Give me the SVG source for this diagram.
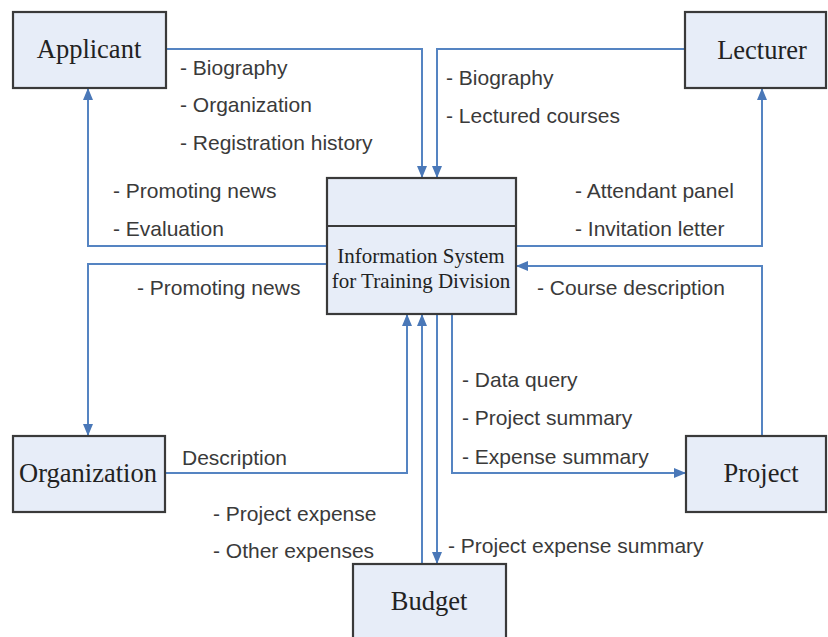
<svg xmlns="http://www.w3.org/2000/svg" width="828" height="637" viewBox="0 0 828 637">
<style>
.box{fill:#e7edf8;stroke:#3a3a3a;stroke-width:2.2}
.node{font-family:"Liberation Serif","Times New Roman",serif;font-size:26.5px;fill:#222;text-anchor:middle}
.ctr{font-family:"Liberation Serif","Times New Roman",serif;font-size:21px;fill:#222;text-anchor:middle}
.lbl{font-family:"Liberation Sans",Arial,sans-serif;font-size:21px;fill:#3a3a3a}
.con{fill:none;stroke:#5584c2;stroke-width:2;marker-end:url(#ah)}
</style>
<defs>
<marker id="ah" viewBox="0 0 12 10" refX="12" refY="5" markerWidth="12" markerHeight="10" markerUnits="userSpaceOnUse" orient="auto">
<path d="M0,0 L12,5 L0,10 z" fill="#4a78b8"/>
</marker>
</defs>
<rect width="828" height="637" fill="#ffffff"/>
<g id="connectors">
<path class="con" d="M166,49 H422 V178"/>
<path class="con" d="M685,49 H437 V178"/>
<path class="con" d="M327,246 H88 V88"/>
<path class="con" d="M327,264 H88 V436"/>
<path class="con" d="M516,246 H762 V88"/>
<path class="con" d="M762,436 V266 H516"/>
<path class="con" d="M165,473 H407 V314"/>
<path class="con" d="M422,564 V314"/>
<path class="con" d="M437,314 V564"/>
<path class="con" d="M452,314 V473 H686"/>
</g>
<g id="labels">
<text class="lbl" x="180" y="75">- Biography</text>
<text class="lbl" x="180" y="112">- Organization</text>
<text class="lbl" x="180" y="150">- Registration history</text>
<text class="lbl" x="446" y="85">- Biography</text>
<text class="lbl" x="446" y="123">- Lectured courses</text>
<text class="lbl" x="113" y="198">- Promoting news</text>
<text class="lbl" x="113" y="236">- Evaluation</text>
<text class="lbl" x="137" y="295">- Promoting news</text>
<text class="lbl" x="575" y="198">- Attendant panel</text>
<text class="lbl" x="575" y="236">- Invitation letter</text>
<text class="lbl" x="537" y="295">- Course description</text>
<text class="lbl" x="182" y="465">Description</text>
<text class="lbl" x="213" y="521">- Project expense</text>
<text class="lbl" x="213" y="558">- Other expenses</text>
<text class="lbl" x="462" y="387">- Data query</text>
<text class="lbl" x="462" y="425">- Project summary</text>
<text class="lbl" x="462" y="464">- Expense summary</text>
<text class="lbl" x="448" y="553">- Project expense summary</text>
</g>
<g id="applicant">
<rect class="box" x="13" y="12" width="153" height="76"/>
<text class="node" x="89" y="58">Applicant</text>
</g>
<g id="lecturer">
<rect class="box" x="685" y="12" width="141" height="76"/>
<text class="node" x="762" y="59">Lecturer</text>
</g>
<g id="system">
<rect class="box" x="327" y="178" width="189" height="136"/>
<line x1="327" y1="226" x2="516" y2="226" stroke="#3a3a3a" stroke-width="2.2"/>
<text class="ctr" x="421" y="263">Information System</text>
<text class="ctr" x="421" y="288">for Training Division</text>
</g>
<g id="organization">
<rect class="box" x="13" y="436" width="152" height="76"/>
<text class="node" x="88" y="482">Organization</text>
</g>
<g id="project">
<rect class="box" x="686" y="436" width="140" height="76"/>
<text class="node" x="761" y="482">Project</text>
</g>
<g id="budget">
<rect class="box" x="353" y="564" width="153" height="78"/>
<text class="node" x="429" y="610">Budget</text>
</g>
</svg>
